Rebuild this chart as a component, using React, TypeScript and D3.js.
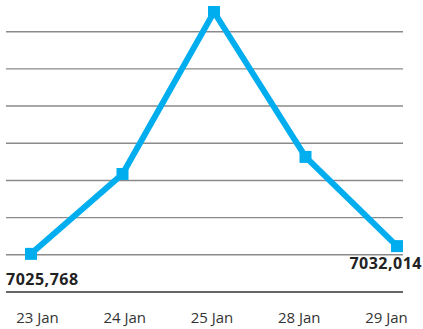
import React from "react";
import * as d3 from "d3";

const categories = ["23 Jan", "24 Jan", "25 Jan", "28 Jan", "29 Jan"];
const values = [7025.768, 7090.2, 7220.9, 7104.0, 7032.014];
const gridTicks = [7025, 7055, 7085, 7115, 7145, 7175, 7205];
const baselineValue = 6995;
const firstLabel = "7025,768";
const lastLabel = "7032,014";

const W = 423;
const H = 329;

export default function App() {
  const x = d3.scalePoint<string>().domain(categories).range([31, 397]);
  const xLabel = d3.scalePoint<string>().domain(categories).range([37.5, 386.5]);
  const y = d3.scaleLinear().domain([baselineValue, 7205]).range([292, 31.7]);

  const line = d3
    .line<number>()
    .x((_, i) => x(categories[i]) as number)
    .y((d) => y(d));

  const font = "'Open Sans', sans-serif";
  const n = values.length;

  return (
    <svg
      width={W}
      height={H}
      style={{ position: "absolute", left: 0, top: 0, background: "#fff" }}
    >
      {gridTicks.map((t) => (
        <line
          key={t}
          x1={6}
          x2={403}
          y1={y(t)}
          y2={y(t)}
          stroke="#8a8a8a"
          strokeWidth={1.4}
        />
      ))}
      <line
        x1={6}
        x2={403}
        y1={y(baselineValue)}
        y2={y(baselineValue)}
        stroke="#333"
        strokeWidth={1.6}
      />
      <path
        d={line(values) || ""}
        fill="none"
        stroke="#00AEEF"
        strokeWidth={6}
        strokeLinejoin="miter"
      />
      {values.map((v, i) => (
        <rect
          key={i}
          x={(x(categories[i]) as number) - 6}
          y={y(v) - 6}
          width={12}
          height={12}
          fill="#00AEEF"
        />
      ))}
      <text
        x={6}
        y={y(values[0]) + 31}
        fontFamily={font}
        fontWeight={700}
        fontSize={16}
        letterSpacing={0.5}
        fill="#222"
      >
        {firstLabel}
      </text>
      <text
        x={(x(categories[n - 1]) as number) + 25}
        y={y(values[n - 1]) + 23}
        textAnchor="end"
        fontFamily={font}
        fontWeight={700}
        fontSize={16}
        letterSpacing={0.5}
        fill="#222"
      >
        {lastLabel}
      </text>
      {categories.map((c) => (
        <text
          key={c}
          x={xLabel(c)}
          y={323}
          textAnchor="middle"
          fontFamily={font}
          fontSize={15}
          fill="#333"
        >
          {c}
        </text>
      ))}
    </svg>
  );
}
